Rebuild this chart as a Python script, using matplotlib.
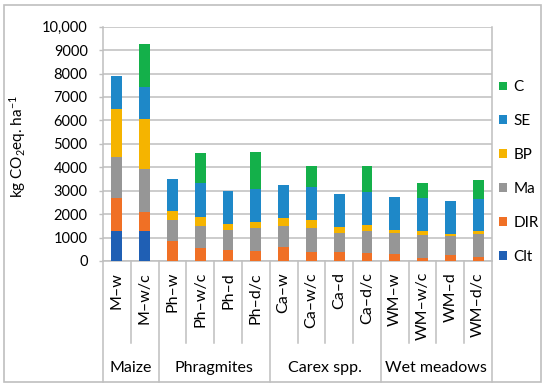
import matplotlib
matplotlib.use("Agg")
import matplotlib.pyplot as plt
import numpy as np
from matplotlib.patches import Rectangle, Patch

plt.rcParams['font.family'] = ['Lato', 'DejaVu Sans']
plt.rcParams['mathtext.fontset'] = 'custom'
plt.rcParams['mathtext.rm'] = 'Lato'
plt.rcParams['mathtext.it'] = 'Lato:italic'

categories = ["M–w", "M–w/c", "Ph–w", "Ph–w/c", "Ph–d", "Ph–d/c",
              "Ca–w", "Ca–w/c", "Ca–d", "Ca–d/c",
              "WM–w", "WM–w/c", "WM–d", "WM–d/c"]
groups = ["Maize", "Phragmites", "Carex spp.", "Wet meadows"]
group_sizes = [2, 4, 4, 4]

Clt = [1300, 1300, 0, 0, 0, 0, 0, 0, 0, 0, 0, 0, 0, 0]
DIR = [1370, 790, 840, 540, 485, 440, 600, 385, 370, 340, 300, 130, 240, 170]
Ma = [1750, 1850, 900, 970, 850, 965, 895, 1010, 825, 955, 880, 965, 810, 995]
BP = [2080, 2100, 385, 385, 230, 255, 340, 355, 240, 230, 140, 170, 100, 100]
SE = [1400, 1380, 1390, 1420, 1420, 1395, 1420, 1395, 1410, 1420, 1395, 1410, 1410, 1365]
C = [0, 1850, 0, 1280, 0, 1590, 0, 910, 0, 1110, 0, 655, 0, 825]

series = [("Clt", Clt, "#1F5FB4"), ("DIR", DIR, "#F07025"), ("Ma", Ma, "#969696"),
          ("BP", BP, "#F5B400"), ("SE", SE, "#1E88C8"), ("C", C, "#14B04A")]

yticks = [0, 1000, 2000, 3000, 4000, 5000, 6000, 7000, 8000, 9000, 10000]
ytick_labels = ["0", "1000", "2000", "3000", "4000", "5000", "6000", "7000", "8000", "9000", "10,000"]

W, H = 550, 388
fig = plt.figure(figsize=(5.5, 3.88), dpi=100)
L, R, T, B = 103, 492, 26.7, 261
ax = fig.add_axes([L / W, 1 - B / H, (R - L) / W, (B - T) / H])

gc = "#BFBFBF"
x = np.arange(len(categories))
bottom = np.zeros(len(categories))
handles = []
for name, vals, col in series:
    v = np.array(vals, dtype=float)
    ax.bar(x, v, width=0.39, bottom=bottom, color=col, linewidth=0, zorder=3)
    bottom += v
    handles.append(Patch(facecolor=col, edgecolor='none', label=name))

ax.set_xlim(-0.5, len(categories) - 0.5)
ax.set_ylim(0, 10000)
ax.set_yticks(yticks)
ax.set_yticklabels(ytick_labels, fontsize=10.5)
ax.yaxis.grid(True, color=gc, linewidth=1.1, zorder=0)
ax.set_axisbelow(True)
for s in ['left', 'right', 'bottom']:
    ax.spines[s].set_color(gc)
    ax.spines[s].set_linewidth(1.1)
ax.spines['top'].set_visible(False)
ax.tick_params(axis='y', length=3, color=gc, pad=8, width=1)
ax.set_xticks([])

ax.set_ylabel("kg CO$_2$eq. ha$^{-1}$", fontsize=11)
ax.yaxis.set_label_coords(-(103 - 28) / (R - L), 0.487)

trans = ax.get_xaxis_transform()
ah = B - T
short_y = -(343 - B) / ah
long_y = -(382 - B) / ah
for i, lab in enumerate(categories):
    ax.text(i, -11 / ah, lab, rotation=90, ha='center', va='top',
            fontsize=11.5, transform=trans)

bounds = np.cumsum([0] + group_sizes) - 0.5
for i in range(len(categories) + 1):
    xb = i - 0.5
    ylow = long_y if xb in bounds else short_y
    ax.plot([xb, xb], [0, ylow], color=gc, lw=1.1, transform=trans, clip_on=False)

for gi, g in enumerate(groups):
    cx = (bounds[gi] + bounds[gi + 1]) / 2
    ax.text(cx, -(368 - B) / ah, g, ha='center', va='center', fontsize=11.5, transform=trans)

leg = ax.legend(handles=handles[::-1], loc='center left',
                bbox_to_anchor=(499 / W, 1 - 172 / H), bbox_transform=fig.transFigure,
                frameon=False, fontsize=11, handlelength=0.5, handleheight=0.5,
                handletextpad=0.45, labelspacing=1.3, borderpad=0, borderaxespad=0)

fig.patches.append(Rectangle((4 / W, 1 - 382 / H), (541 - 4) / W, (382 - 5) / H,
                             transform=fig.transFigure, fill=False, edgecolor=gc, lw=1.2))

fig.savefig("out.png", dpi=100)
